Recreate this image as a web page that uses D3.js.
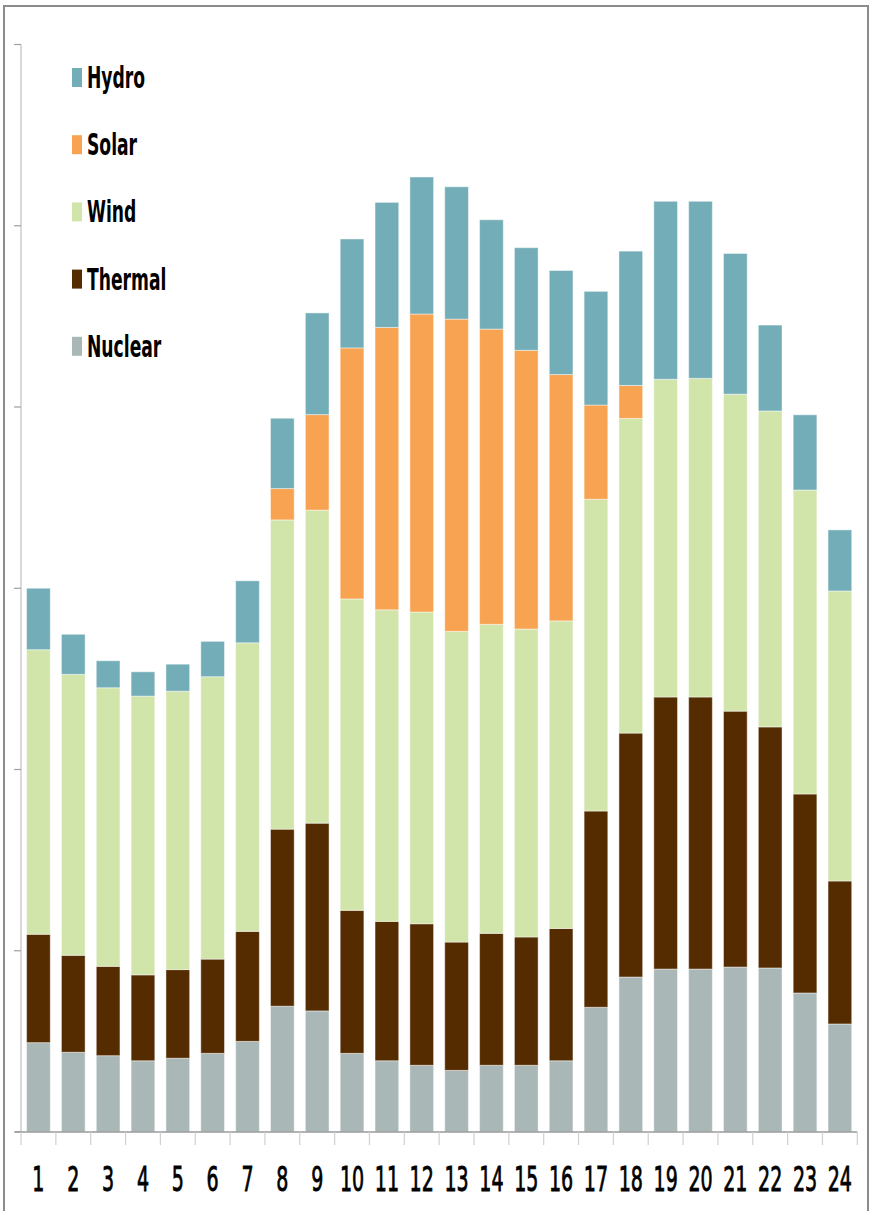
<!DOCTYPE html>
<html>
<head>
<meta charset="utf-8">
<script src="https://cdn.jsdelivr.net/npm/d3@7"></script>
<style>
  html, body { margin: 0; padding: 0; background: #fff; }
  svg { display: block; }
</style>
</head>
<body>
<svg id="chart" width="875" height="1211"></svg>
<script>
// Hourly generation mix, stacked by source
const hours = d3.range(1, 25).map(String);
const nuclear = [4.93, 4.40, 4.21, 3.93, 4.07, 4.34, 5.00, 6.94, 6.68, 4.34, 3.93, 3.68,
                 3.40, 3.68, 3.68, 3.93, 6.88, 8.55, 8.99, 8.99, 9.10, 9.05, 7.67, 5.96];
const thermal = [5.98, 5.35, 4.93, 4.74, 4.89, 5.20, 6.07, 9.77, 10.36, 7.89, 7.69, 7.81,
                 7.08, 7.28, 7.08, 7.30, 10.83, 13.46, 15.01, 15.01, 14.12, 13.30, 10.98, 7.89];
const wind    = [15.70, 15.50, 15.37, 15.38, 15.36, 15.58, 15.92, 17.06, 17.27, 17.18, 17.19, 17.20,
                 17.14, 17.05, 16.99, 16.97, 17.20, 17.36, 17.53, 17.58, 17.49, 17.43, 16.77, 16.00];
const solar   = [0, 0, 0, 0, 0, 0, 0, 1.73, 5.27, 13.85, 15.58, 16.44,
                 17.23, 16.29, 15.38, 13.59, 5.20, 1.82, 0, 0, 0, 0, 0, 0];
const hydro   = [3.39, 2.21, 1.49, 1.34, 1.49, 1.95, 3.42, 3.88, 5.61, 6.01, 6.90, 7.56,
                 7.30, 6.03, 5.66, 5.74, 6.27, 7.41, 9.82, 9.77, 7.76, 4.74, 4.15, 3.37];

const sources = ["Nuclear", "Thermal", "Wind", "Solar", "Hydro"];
const seriesValues = { Nuclear: nuclear, Thermal: thermal, Wind: wind, Solar: solar, Hydro: hydro };
const colors = { Hydro: "#73adb7", Solar: "#f8a351", Wind: "#d1e5aa", Thermal: "#552c00", Nuclear: "#a9b7b7" };
const legendOrder = ["Hydro", "Solar", "Wind", "Thermal", "Nuclear"];
const yTicks = [0, 10, 20, 30, 40, 50, 60];

const rows = hours.map((h, i) => {
  const r = { hour: h };
  sources.forEach(s => { r[s] = seriesValues[s][i]; });
  return r;
});

const svg = d3.select("#chart");
const plotLeft = 21, plotRight = 857.3, plotTop = 44.5, plotBottom = 1132;

const x = d3.scaleBand().domain(hours).range([plotLeft, plotRight]).paddingInner(0.32).paddingOuter(0.16);
const y = d3.scaleLinear().domain([0, 60]).range([plotBottom, plotTop]);

// outer frame
svg.append("path")
  .attr("d", "M4,1215 L4,6 L868,6 L868,1215")
  .attr("fill", "none").attr("stroke", "#8c8c8c").attr("stroke-width", 2);

// stacked bars
const stacked = d3.stack().keys(sources)(rows);
svg.append("g").selectAll("g")
  .data(stacked)
  .join("g")
  .attr("fill", d => colors[d.key])
  .selectAll("rect")
  .data(d => d.filter(p => p[1] - p[0] > 0))
  .join("rect")
  .attr("x", d => x(d.data.hour))
  .attr("width", x.bandwidth())
  .attr("y", d => y(d[1]))
  .attr("height", d => y(d[0]) - y(d[1]))
  .attr("stroke", "rgba(255,255,255,0.45)")
  .attr("stroke-width", 1);

// y axis: line and unlabeled ticks
const yAxis = svg.append("g");
yAxis.append("line")
  .attr("x1", plotLeft).attr("x2", plotLeft).attr("y1", plotTop).attr("y2", plotBottom)
  .attr("stroke", "#d0d0d0").attr("stroke-width", 1.6);
yAxis.selectAll("line.tick")
  .data(yTicks)
  .join("line")
  .attr("class", "tick")
  .attr("x1", 14).attr("x2", plotLeft)
  .attr("y1", d => y(d)).attr("y2", d => y(d))
  .attr("stroke", "#a0a0a0").attr("stroke-width", 1.2);

// x axis: baseline, boundary ticks and hour labels
const xAxis = svg.append("g");
xAxis.append("line")
  .attr("x1", 15).attr("x2", plotRight).attr("y1", plotBottom).attr("y2", plotBottom)
  .attr("stroke", "#9a9a9a").attr("stroke-width", 1.4);
const step = x.step();
xAxis.selectAll("line.tick")
  .data(d3.range(hours.length + 1))
  .join("line")
  .attr("class", "tick")
  .attr("x1", i => plotLeft + i * step).attr("x2", i => plotLeft + i * step)
  .attr("y1", plotBottom).attr("y2", 1145)
  .attr("stroke", "#d0d0d0").attr("stroke-width", 1.2);
xAxis.selectAll("text")
  .data(hours)
  .join("text")
  .attr("transform", d => `translate(${x(d) + x.bandwidth() / 2},1190.5) scale(0.56,1)`)
  .attr("text-anchor", "middle")
  .attr("font-family", "DejaVu Sans, Verdana, sans-serif")
  .attr("font-size", 34)
  .attr("fill", "#000")
  .attr("stroke", "#000")
  .attr("stroke-width", 0.9)
  .text(d => d);

// legend
const legend = svg.append("g");
const lg = legend.selectAll("g")
  .data(legendOrder)
  .join("g")
  .attr("transform", (d, i) => `translate(72,${68 + i * 67.2})`);
lg.append("rect")
  .attr("width", 10).attr("height", 19)
  .attr("fill", d => colors[d]);
lg.append("text")
  .attr("transform", "translate(15,20) scale(0.58,1)")
  .attr("font-family", "DejaVu Sans, Verdana, sans-serif")
  .attr("font-weight", "bold")
  .attr("font-size", 29.6)
  .attr("fill", "#000")
  .text(d => d);
</script>
</body>
</html>
